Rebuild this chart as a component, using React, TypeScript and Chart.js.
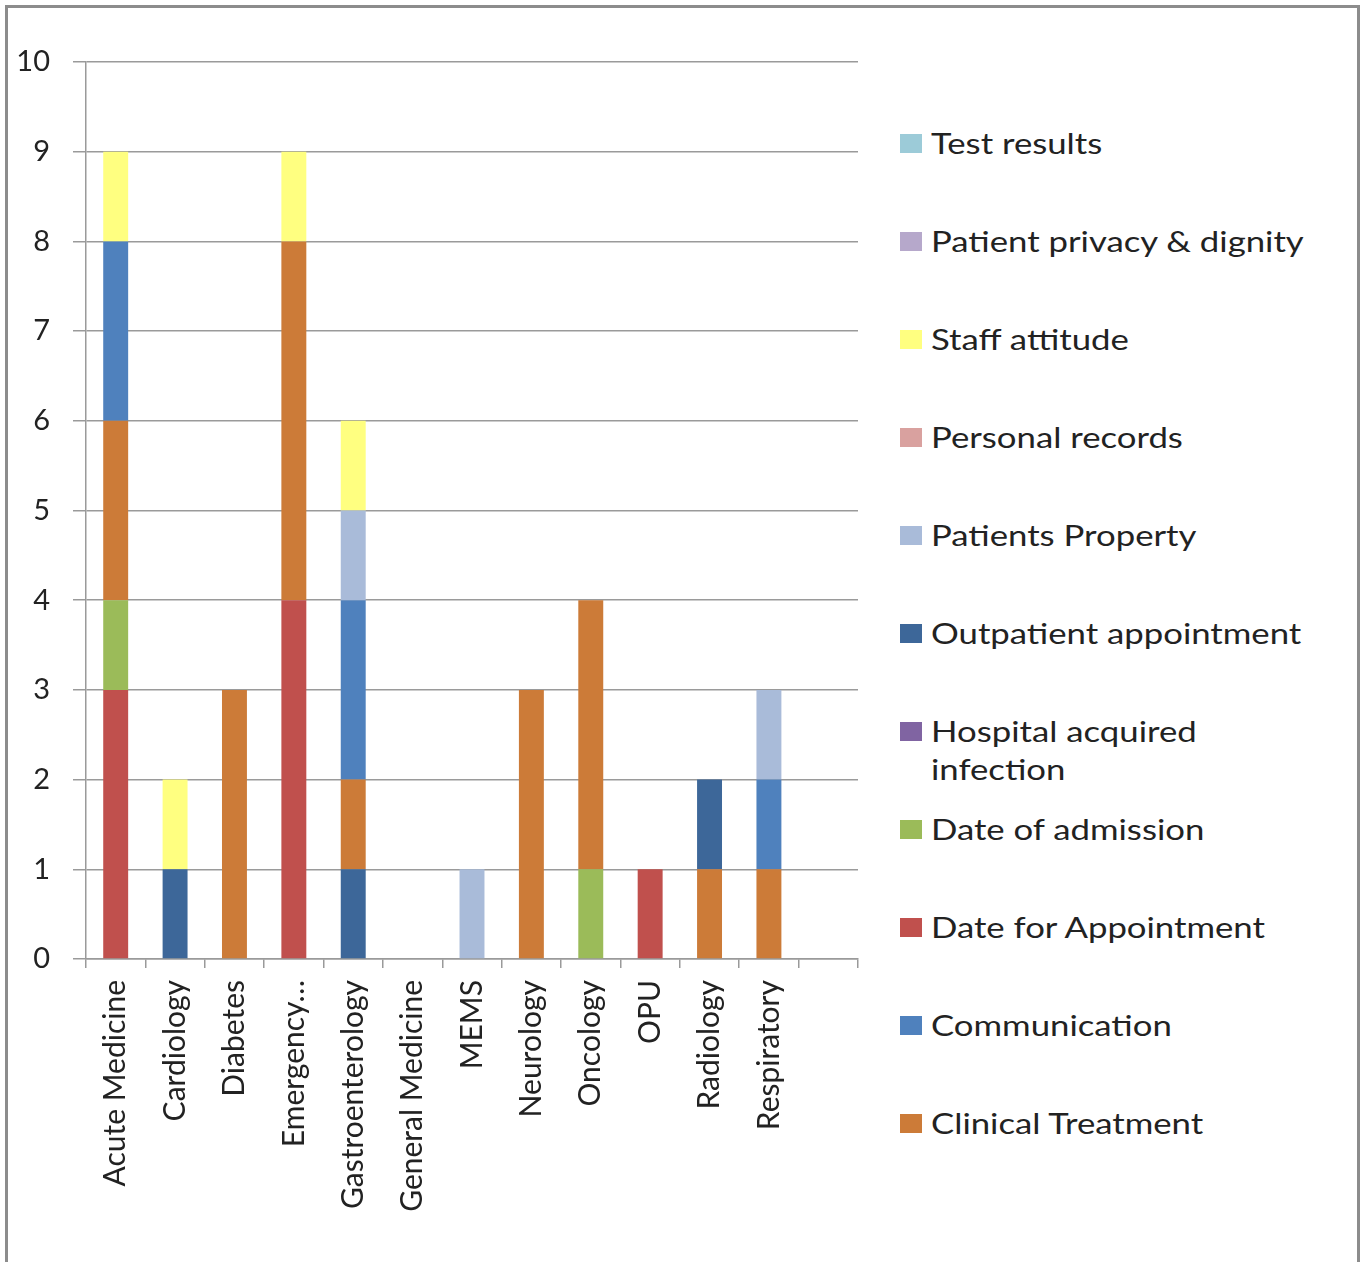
import React, { useEffect, useRef } from "react";
import { Chart, registerables } from "chart.js";

Chart.register(...registerables);

const categories = [
  "Acute Medicine",
  "Cardiology",
  "Diabetes",
  "Emergency…",
  "Gastroenterology",
  "General Medicine",
  "MEMS",
  "Neurology",
  "Oncology",
  "OPU",
  "Radiology",
  "Respiratory",
  "",
];

// Stack order follows the picture (bottom to top)
const dateForAppointment = [3, 0, 0, 4, 0, 0, 0, 0, 0, 1, 0, 0, 0];
const dateOfAdmission = [1, 0, 0, 0, 0, 0, 0, 0, 1, 0, 0, 0, 0];
const outpatientBelow = [0, 1, 0, 0, 1, 0, 0, 0, 0, 0, 0, 0, 0];
const clinicalTreatment = [2, 0, 3, 4, 1, 0, 0, 3, 3, 0, 1, 1, 0];
const outpatientAbove = [0, 0, 0, 0, 0, 0, 0, 0, 0, 0, 1, 0, 0];
const communication = [2, 0, 0, 0, 2, 0, 0, 0, 0, 0, 0, 1, 0];
const hospitalAcquired = [0, 0, 0, 0, 0, 0, 0, 0, 0, 0, 0, 0, 0];
const patientsProperty = [0, 0, 0, 0, 1, 0, 1, 0, 0, 0, 0, 1, 0];
const personalRecords = [0, 0, 0, 0, 0, 0, 0, 0, 0, 0, 0, 0, 0];
const staffAttitude = [1, 1, 0, 1, 1, 0, 0, 0, 0, 0, 0, 0, 0];
const patientPrivacy = [0, 0, 0, 0, 0, 0, 0, 0, 0, 0, 0, 0, 0];
const testResults = [0, 0, 0, 0, 0, 0, 0, 0, 0, 0, 0, 0, 0];

const yTicks = [0, 1, 2, 3, 4, 5, 6, 7, 8, 9, 10];

const COLORS: Record<string, string> = {
  "Test results": "#9ccbd8",
  "Patient privacy & dignity": "#b6a8cb",
  "Staff attitude": "#ffff80",
  "Personal records": "#d9a19f",
  "Patients Property": "#a9bbd9",
  "Outpatient appointment": "#3d6799",
  "Hospital acquired infection": "#8064a2",
  "Date of admission": "#9bbb59",
  "Date for Appointment": "#c0504d",
  Communication: "#4f81bd",
  "Clinical Treatment": "#cc7b38",
};

const legendOrder = [
  "Test results",
  "Patient privacy & dignity",
  "Staff attitude",
  "Personal records",
  "Patients Property",
  "Outpatient appointment",
  "Hospital acquired infection",
  "Date of admission",
  "Date for Appointment",
  "Communication",
  "Clinical Treatment",
];

const FONT = "Lato, 'Open Sans', sans-serif";

export default function App() {
  const ref = useRef<HTMLCanvasElement | null>(null);

  useEffect(() => {
    document.body.style.margin = "0";
    const canvas = ref.current;
    if (!canvas) return;
    const ds = (label: string, data: number[]) => ({
      label,
      data,
      backgroundColor: COLORS[label],
      borderWidth: 0,
      stack: "s",
      categoryPercentage: 1,
      barPercentage: 0.42,
    });
    const chart = new Chart(canvas, {
      type: "bar",
      data: {
        labels: categories,
        datasets: [
          ds("Date for Appointment", dateForAppointment),
          ds("Date of admission", dateOfAdmission),
          ds("Outpatient appointment", outpatientBelow),
          ds("Clinical Treatment", clinicalTreatment),
          ds("Outpatient appointment", outpatientAbove),
          ds("Communication", communication),
          ds("Hospital acquired infection", hospitalAcquired),
          ds("Patients Property", patientsProperty),
          ds("Personal records", personalRecords),
          ds("Staff attitude", staffAttitude),
          ds("Patient privacy & dignity", patientPrivacy),
          ds("Test results", testResults),
        ],
      },
      options: {
        responsive: false,
        animation: false,
        layout: { padding: { top: 62, right: 22, left: 0, bottom: 0 } },
        plugins: { legend: { display: false }, tooltip: { enabled: false } },
        scales: {
          x: {
            stacked: true,
            grid: {
              offset: true,
              drawOnChartArea: false,
              drawTicks: true,
              tickLength: 9,
              color: "#9a9a9a",
              lineWidth: 1.5,
            },
            border: { display: true, color: "#9a9a9a", width: 1.5 },
            ticks: {
              minRotation: 90,
              maxRotation: 90,
              autoSkip: false,
              padding: 12,
              color: "#222",
              font: { family: FONT, size: 30 },
            },
            afterFit: (s: any) => {
              s.height = 1262 - 959;
            },
          },
          y: {
            stacked: true,
            min: 0,
            max: 10,
            afterBuildTicks: (s: any) => {
              s.ticks = yTicks.map((v) => ({ value: v }));
            },
            grid: {
              color: "#9a9a9a",
              lineWidth: 1.5,
              tickLength: 13,
            },
            border: { display: true, color: "#9a9a9a", width: 1.5 },
            ticks: {
              padding: 23,
              color: "#222",
              font: { family: FONT, size: 29 },
            },
            afterFit: (s: any) => {
              s.width = 86;
            },
          },
        },
      },
    });
    return () => chart.destroy();
  }, []);

  return (
    <div
      style={{
        position: "relative",
        width: 1363,
        height: 1262,
        overflow: "hidden",
        background: "#fff",
        fontFamily: FONT,
      }}
    >
      <div
        style={{
          position: "absolute",
          left: 5,
          top: 5,
          width: 1349,
          height: 1300,
          border: "3px solid #8c8c8c",
          boxSizing: "content-box",
        }}
      />
      <canvas
        ref={ref}
        width={880}
        height={1262}
        style={{ position: "absolute", left: 0, top: 0 }}
      />
      {legendOrder.map((name, i) => (
        <div
          key={name}
          style={{
            position: "absolute",
            left: 900,
            top: 143 + i * 98 - 19,
            display: "flex",
            alignItems: "flex-start",
          }}
        >
          <div
            style={{
              width: 22,
              height: 19,
              marginTop: 10,
              background: COLORS[name],
              flex: "none",
            }}
          />
          <div
            style={{
              marginLeft: 9,
              width: 310,
              fontSize: 28,
              lineHeight: "38px",
              color: "#222",
              transform: "scaleX(1.24)",
              transformOrigin: "left top",
            }}
          >
            {name}
          </div>
        </div>
      ))}
    </div>
  );
}
